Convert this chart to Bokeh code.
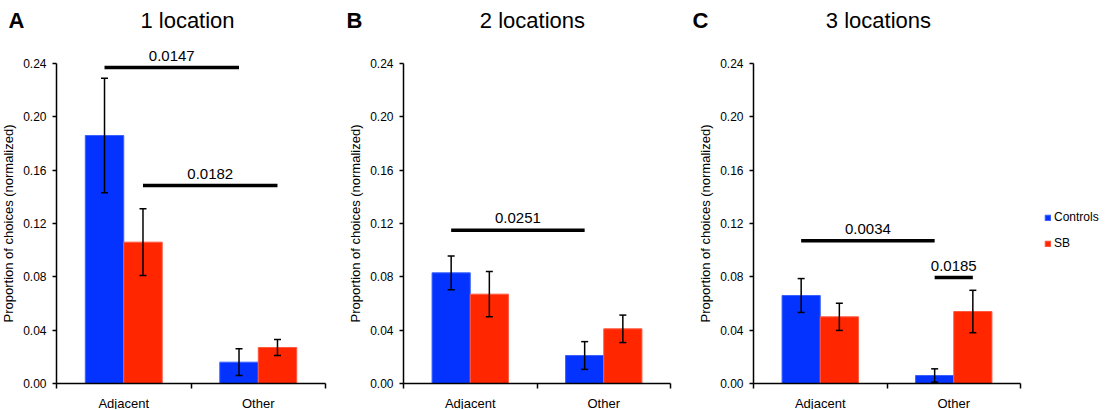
import numpy as np
from bokeh.plotting import figure
from bokeh.models import (ColumnDataSource, Range1d, FixedTicker, Whisker, TeeHead,
                          Legend, LegendItem, NumeralTickFormatter, LinearAxis)
from bokeh.layouts import row
from bokeh.core.properties import value
from bokeh.transform import dodge
from bokeh.embed import file_html
from bokeh.resources import INLINE

# ---------------- data ----------------
categories = ["Adjacent", "Other"]
series = ["Controls", "SB"]
y_ticks = [0.00, 0.04, 0.08, 0.12, 0.16, 0.20, 0.24]

panel_letters = ["A", "B", "C"]
panel_titles = ["1 location", "2 locations", "3 locations"]

controls_A = [0.186, 0.016]
controls_A_sem = [0.043, 0.010]
sb_A = [0.106, 0.027]
sb_A_sem = [0.025, 0.006]

controls_B = [0.083, 0.021]
controls_B_sem = [0.0127, 0.0104]
sb_B = [0.067, 0.041]
sb_B_sem = [0.017, 0.0103]

controls_C = [0.066, 0.006]
controls_C_sem = [0.0127, 0.005]
sb_C = [0.050, 0.054]
sb_C_sem = [0.0102, 0.0159]

# significance bars: (from category, from series, to category, to series, height, p-value)
sig_A = [("Adjacent", "Controls", "Other", "Controls", 0.237, "0.0147"),
         ("Adjacent", "SB", "Other", "SB", 0.1485, "0.0182")]
sig_B = [("Adjacent", "Controls", "Other", "Controls", 0.115, "0.0251")]
sig_C = [("Adjacent", "Controls", "Other", "Controls", 0.107, "0.0034"),
         ("Other", "Controls", "Other", "SB", 0.0795, "0.0185")]

# ---------------- style / layout ----------------
FONT = "Liberation Sans"
BLUE = "#0433FF"
RED = "#FF2600"
BAR_W = 0.286
OFF = {"Controls": -0.143, "SB": 0.143}
CANVAS_H = 409
ZERO_PX = 383          # pixel row of y = 0 (from top)
PX_PER_Y = 320 / 0.24
Y_START = -(CANVAS_H - ZERO_PX) / PX_PER_Y
Y_END = ZERO_PX / PX_PER_Y
HEAD_Y = (ZERO_PX - 19.5) / PX_PER_Y


def cat_x(cat, ser):
    return categories.index(cat) + 0.5 + OFF[ser]


def make_panel(letter, title, ctrl, ctrl_sem, sb, sb_sem, sigs,
               canvas_w, axis_px, px_per_x, letter_px, title_x, legend=False):
    x_start = -axis_px / px_per_x
    x_end = (canvas_w - axis_px) / px_per_x
    p = figure(width=canvas_w, height=CANVAS_H,
               frame_width=canvas_w, frame_height=CANVAS_H,
               min_border=0,
               x_range=Range1d(x_start, x_end), y_range=Range1d(Y_START, Y_END),
               x_axis_location=None, y_axis_location=None,
               output_backend="svg", toolbar_location=None, tools="")
    p.outline_line_color = None
    p.grid.visible = False
    p.background_fill_color = "white"
    p.border_fill_color = "white"

    ctrl = np.array(ctrl); ctrl_sem = np.array(ctrl_sem)
    sb = np.array(sb); sb_sem = np.array(sb_sem)
    src = ColumnDataSource(dict(
        x=np.arange(len(categories)) + 0.5,
        ctrl=ctrl, ctrl_hi=ctrl + ctrl_sem, ctrl_lo=ctrl - ctrl_sem,
        sb=sb, sb_hi=sb + sb_sem, sb_lo=sb - sb_sem))

    r1 = p.vbar(x=dodge("x", OFF["Controls"]), top="ctrl", width=BAR_W, source=src,
                fill_color=BLUE, line_color="#3B62FF", line_width=1)
    r2 = p.vbar(x=dodge("x", OFF["SB"]), top="sb", width=BAR_W, source=src,
                fill_color=RED, line_color="#FF5A40", line_width=1)

    for ser, hi, lo in (("Controls", "ctrl_hi", "ctrl_lo"), ("SB", "sb_hi", "sb_lo")):
        w = Whisker(base=dodge("x", OFF[ser]), upper=hi, lower=lo, source=src,
                    level="overlay", line_color="black", line_width=1.5,
                    upper_head=TeeHead(size=7, line_width=1.5, line_color="black"),
                    lower_head=TeeHead(size=7, line_width=1.5, line_color="black"))
        p.add_layout(w)

    # significance bars
    sx0 = [cat_x(s[0], s[1]) for s in sigs]
    sx1 = [cat_x(s[2], s[3]) for s in sigs]
    sy = [s[4] for s in sigs]
    st = [s[5] for s in sigs]
    ssrc = ColumnDataSource(dict(x0=sx0, x1=sx1, y=sy,
                                 xm=[(a + b) / 2 for a, b in zip(sx0, sx1)], t=st))
    p.segment(x0="x0", y0="y", x1="x1", y1="y", source=ssrc, line_color="black",
              line_width=3.5, line_cap="butt")
    p.text(x="xm", y="y", text="t", source=ssrc, text_font=value(FONT),
           text_font_size="15px", text_align="center", text_baseline="middle",
           y_offset=-12, text_color="black")

    # title and panel letter
    p.text(x=[title_x], y=[HEAD_Y], text=[title], text_font=value(FONT),
           text_font_size="22px", text_align="center", text_baseline="middle",
           text_color="black")
    p.text(x=[letter_px / px_per_x], y=[HEAD_Y], text=[letter], text_font=value(FONT),
           text_font_size="22px", text_font_style="bold", text_align="center",
           text_baseline="middle", text_color="black")

    # y axis, drawn at x = 0
    ya = LinearAxis(fixed_location=0)
    ya.bounds = (0, 0.24)
    ya.ticker = FixedTicker(ticks=y_ticks, minor_ticks=[])
    ya.formatter = NumeralTickFormatter(format="0.00")
    ya.axis_label = "Proportion of choices (normalized)"
    ya.axis_label_text_font = FONT
    ya.axis_label_text_font_size = "13px"
    ya.axis_label_text_font_style = "normal"
    ya.axis_label_text_color = "black"
    ya.axis_label_standoff = 4
    ya.major_label_text_font = FONT
    ya.major_label_text_font_size = "12px"
    ya.major_label_text_color = "black"
    ya.major_label_standoff = 6
    ya.major_tick_out = 4
    ya.major_tick_in = 0
    ya.axis_line_width = 1.5
    ya.major_tick_line_width = 1.5
    ya.axis_line_color = "black"
    ya.major_tick_line_color = "black"
    p.add_layout(ya, "left")

    # x axis, drawn at y = 0
    xa = LinearAxis(fixed_location=0)
    xa.bounds = (0, len(categories))
    centers = [i + 0.5 for i in range(len(categories))]
    xa.ticker = FixedTicker(ticks=centers, minor_ticks=list(range(len(categories) + 1)))
    xa.major_label_overrides = {c: cat for c, cat in zip(centers, categories)}
    xa.major_label_text_font = FONT
    xa.major_label_text_font_size = "13px"
    xa.major_label_text_color = "black"
    xa.major_label_standoff = 7
    xa.major_tick_out = 0
    xa.major_tick_in = 0
    xa.minor_tick_out = 5
    xa.minor_tick_in = 0
    xa.minor_tick_line_width = 1.5
    xa.minor_tick_line_color = "black"
    xa.axis_line_width = 1.5
    xa.axis_line_color = "black"
    p.add_layout(xa, "below")

    if legend:
        lg = Legend(items=[LegendItem(label=series[0], renderers=[r1]),
                           LegendItem(label=series[1], renderers=[r2])],
                    location=(354, CANVAS_H - 250), orientation="vertical",
                    glyph_width=7, glyph_height=7, label_height=13, spacing=12,
                    label_standoff=3, padding=0, margin=0,
                    label_text_font=FONT, label_text_font_size="12px",
                    label_text_color="black", border_line_alpha=0,
                    background_fill_alpha=0)
        p.add_layout(lg)
    return p


pA = make_panel(panel_letters[0], panel_titles[0], controls_A, controls_A_sem, sb_A, sb_A_sem, sig_A,
                340, 56, 134.5, -40, 0.974)
pB = make_panel(panel_letters[1], panel_titles[1], controls_B, controls_B_sem, sb_B, sb_B_sem, sig_B,
                350, 63, 133.5, -49, 0.966)
pC = make_panel(panel_letters[2], panel_titles[2], controls_C, controls_C_sem, sb_C, sb_C_sem, sig_C,
                410, 63, 133.5, -53, 0.936, legend=True)

layout = row(pA, pB, pC, spacing=0)
open("out.html", "w").write(file_html(layout, INLINE))
